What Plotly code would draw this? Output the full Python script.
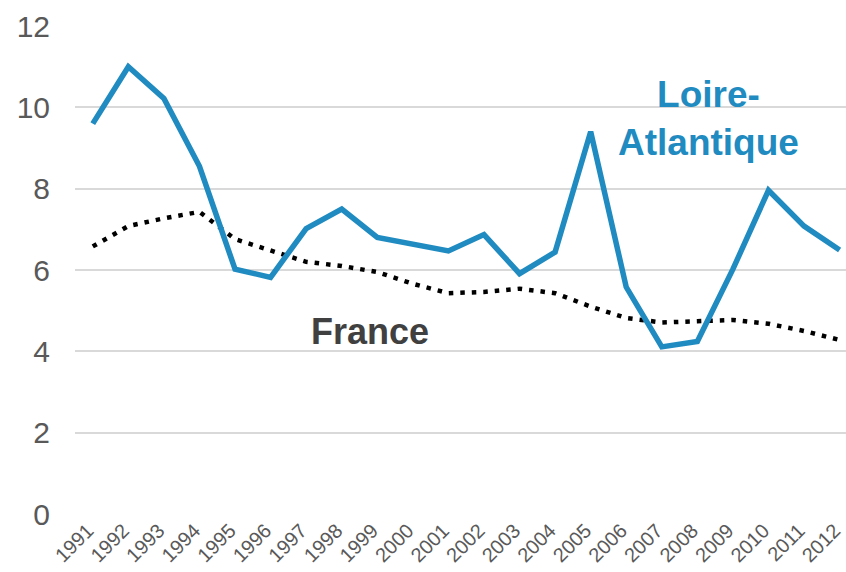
import plotly.graph_objects as go

years = list(range(1991, 2013))
loire = [9.6, 11.0, 10.22, 8.55, 6.02, 5.82, 7.02, 7.5, 6.8, 6.63, 6.47, 6.87,
         5.91, 6.44, 9.4, 5.58, 4.11, 4.24, 6.02, 7.96, 7.08, 6.49]
france = [6.58, 7.08, 7.27, 7.43, 6.76, 6.48, 6.2, 6.1, 5.95, 5.66, 5.43, 5.46,
          5.54, 5.43, 5.1, 4.82, 4.71, 4.74, 4.77, 4.68, 4.5, 4.28]
yticks = [0, 2, 4, 6, 8, 10, 12]

BLUE = "#1F8BC0"
FONT = "Liberation Sans, Arial, sans-serif"

fig = go.Figure()
fig.add_trace(go.Scatter(x=years, y=france, mode="lines",
                         line=dict(color="black", width=4.5, dash="4.5px,7px"),
                         hoverinfo="skip"))
fig.add_trace(go.Scatter(x=years, y=loire, mode="lines",
                         line=dict(color=BLUE, width=5.5),
                         hoverinfo="skip"))

fig.add_annotation(x=1998.8, y=4.5, text="<b>France</b>", showarrow=False,
                   font=dict(family=FONT, size=36, color="#404040"),
                   xanchor="center", yanchor="middle")
fig.add_annotation(x=2008.3, y=9.72, text="<b>Loire-<br>Atlantique</b>", showarrow=False,
                   font=dict(family=FONT, size=37, color=BLUE),
                   xanchor="center", yanchor="middle")

fig.update_layout(
    width=846, height=572,
    margin=dict(l=74.5, r=0, t=26, b=58),
    paper_bgcolor="white", plot_bgcolor="white",
    showlegend=False,
    font=dict(family=FONT, color="#595959"),
    xaxis=dict(range=[1990.5, 2012.18], tickvals=years, ticktext=[str(y) for y in years],
               tickangle=-45, tickfont=dict(size=20, color="#595959"),
               showgrid=False, zeroline=False, showline=False, ticks="",
               ticklabelstandoff=0, ticklabelshift=-5, ticklabeloverflow="allow",
               automargin=False, fixedrange=True),
    yaxis=dict(range=[0, 12], tickvals=yticks, tickfont=dict(size=30, color="#595959"),
               showgrid=True, gridcolor="#D9D9D9", gridwidth=1.5,
               zeroline=False, showline=False, ticks="",
               ticklabelstandoff=24, automargin=False, fixedrange=True),
)

fig.write_html("out.html", config={"displayModeBar": False},
               post_script="document.body.style.margin='0';document.body.style.overflow='hidden';")
